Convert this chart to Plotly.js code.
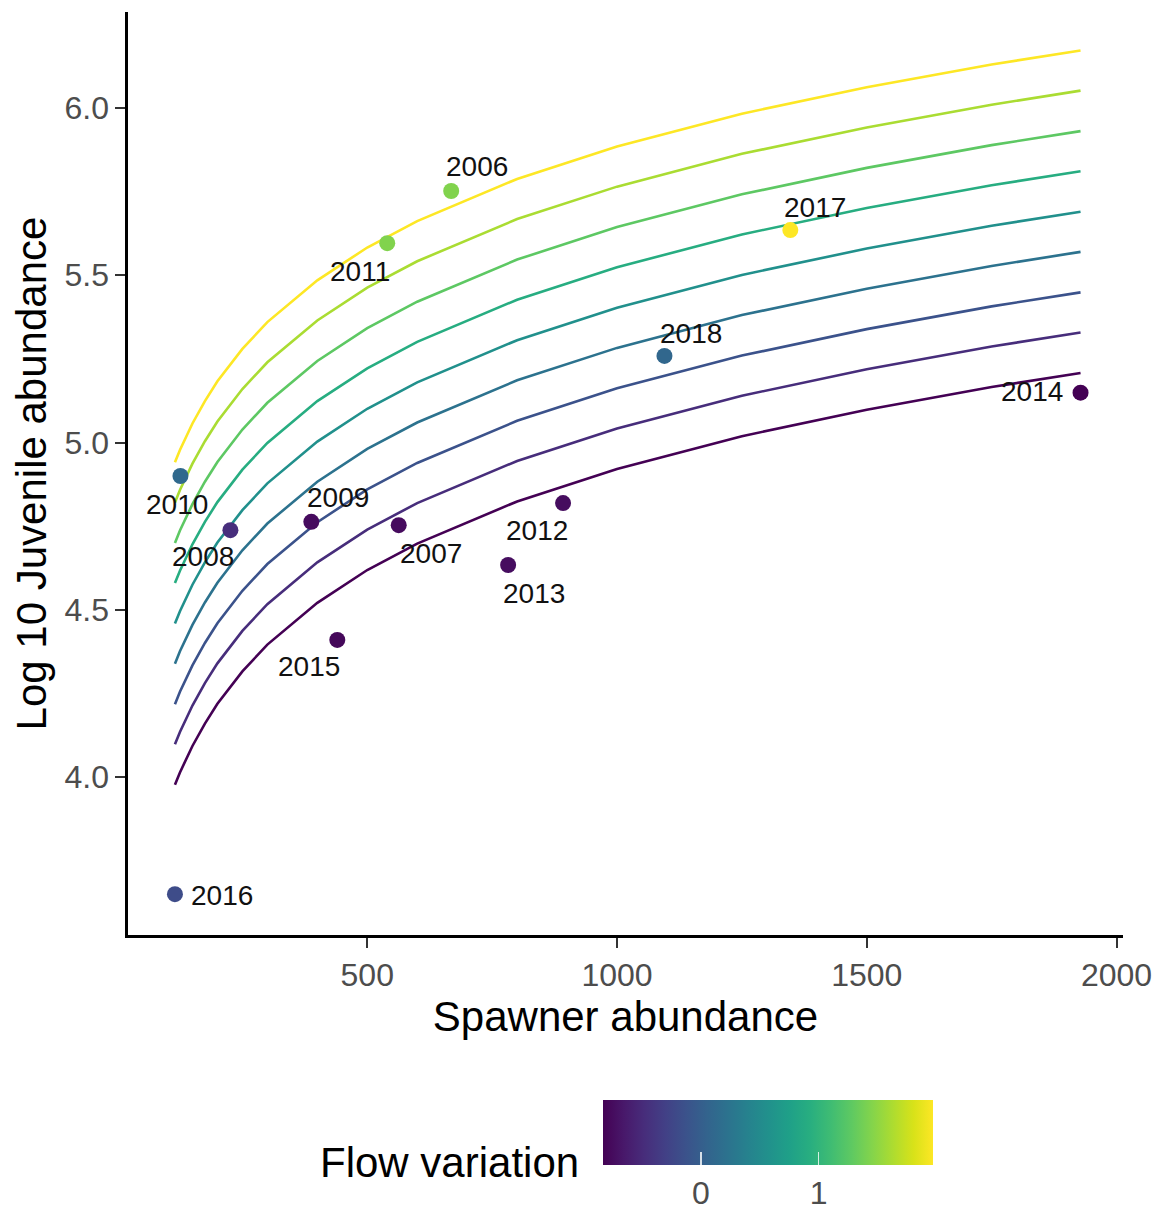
<!DOCTYPE html>
<html>
<head>
<meta charset="utf-8">
<script src="https://cdn.plot.ly/plotly-3.0.1.min.js"></script>
<style>html,body{margin:0;padding:0;background:#fff;}#chart{width:1155px;height:1216px;}</style>
</head>
<body>
<div id="chart"></div>
<script>
// ---- Observed points ----
const years    = ["2006","2007","2008","2009","2010","2011","2012","2013","2014","2015","2016","2017","2018"];
const spawners = [668, 563, 226, 388, 126, 540, 892, 782, 1928, 440, 115, 1347, 1095];
const juvLog10 = [5.752, 4.753, 4.738, 4.763, 4.900, 5.596, 4.819, 4.634, 5.149, 4.410, 3.650, 5.635, 5.259];
const flowVar  = [1.44, -0.75, -0.47, -0.75, 0.12, 1.44, -0.74, -0.74, -0.83, -0.78, -0.19, 1.97, 0.09];

// ---- Fitted curves (one per flow level) ----
const curveS = [115, 125, 150, 175, 200, 250, 300, 400, 500, 600, 800, 1000, 1250, 1500, 1750, 1928];
const curveFlow = [-0.83, -0.48, -0.13, 0.22, 0.57, 0.92, 1.27, 1.62, 1.97];
const curve1 = [3.977, 4.014, 4.093, 4.160, 4.219, 4.316, 4.396, 4.521, 4.619, 4.698, 4.824, 4.921, 5.019, 5.098, 5.166, 5.208];
const curve2 = [4.098, 4.135, 4.214, 4.281, 4.340, 4.437, 4.517, 4.642, 4.740, 4.819, 4.945, 5.042, 5.140, 5.219, 5.287, 5.329];
const curve3 = [4.218, 4.255, 4.334, 4.401, 4.460, 4.557, 4.637, 4.762, 4.860, 4.939, 5.065, 5.162, 5.260, 5.339, 5.407, 5.449];
const curve4 = [4.339, 4.376, 4.455, 4.522, 4.581, 4.678, 4.758, 4.883, 4.981, 5.060, 5.186, 5.283, 5.381, 5.460, 5.528, 5.570];
const curve5 = [4.459, 4.496, 4.575, 4.642, 4.701, 4.798, 4.878, 5.003, 5.101, 5.180, 5.306, 5.403, 5.501, 5.580, 5.648, 5.690];
const curve6 = [4.580, 4.617, 4.696, 4.763, 4.822, 4.919, 4.999, 5.124, 5.222, 5.301, 5.427, 5.524, 5.622, 5.701, 5.769, 5.811];
const curve7 = [4.700, 4.737, 4.816, 4.883, 4.942, 5.039, 5.119, 5.244, 5.342, 5.421, 5.547, 5.644, 5.742, 5.821, 5.889, 5.931];
const curve8 = [4.821, 4.858, 4.937, 5.004, 5.063, 5.160, 5.240, 5.365, 5.463, 5.542, 5.668, 5.765, 5.863, 5.942, 6.010, 6.052];
const curve9 = [4.941, 4.978, 5.057, 5.124, 5.183, 5.280, 5.360, 5.485, 5.583, 5.662, 5.788, 5.885, 5.983, 6.062, 6.130, 6.172];
const curves = [curve1, curve2, curve3, curve4, curve5, curve6, curve7, curve8, curve9];

// ---- Axis ticks ----
const xTicks = [500, 1000, 1500, 2000];
const yTicks = [4.0, 4.5, 5.0, 5.5, 6.0];
const yTickText = ["4.0", "4.5", "5.0", "5.5", "6.0"];
const cbTicks = [0, 1];

// ---- Styles ----
const curveColors = ["#440154","#472D7B","#3B528B","#2C728E","#21908C","#27AD81","#5DC863","#AADC32","#FDE725"];
// label pixel offsets (repel placement), per year
const labelDX = [26, 32, -27, 27, -3, -27, -26, 26, -49, -28, 47, 25, 27];
const labelDY = [24, -28, -26, 24, -28, -28, -27, -28, 1, -27, -1, 23, 22];

const FONT = "Liberation Sans, Arial, Helvetica, sans-serif";
const cmin = -0.83, cmax = 1.97;

const traces = curves.map((c, i) => ({
  type: "scatter", mode: "lines", x: curveS, y: c,
  line: {color: curveColors[i], width: 2.6},
  hoverinfo: "skip", showlegend: false
}));

traces.push({
  type: "scatter", mode: "markers", x: spawners, y: juvLog10, text: years,
  marker: {
    size: 16, color: flowVar, colorscale: "Viridis", cmin: cmin, cmax: cmax,
    showscale: true,
    colorbar: {
      orientation: "h",
      x: (603 - 128) / 995, xanchor: "left",
      y: (935 - 1100) / 923, yanchor: "top",
      len: 330, lenmode: "pixels",
      thickness: 65, thicknessmode: "pixels",
      xpad: 0, ypad: 0,
      outlinewidth: 0,
      tickvals: cbTicks, ticktext: ["0", "1"],
      ticks: "inside", ticklen: 13, tickwidth: 1.5, tickcolor: "rgba(255,255,255,0.8)",
      tickfont: {family: FONT, size: 32, color: "#4d4d4d"},
      title: {text: ""}
    }
  },
  showlegend: false
});

const annotations = years.map((yr, i) => ({
  x: spawners[i], y: juvLog10[i], xref: "x", yref: "y",
  text: yr, showarrow: false, xshift: labelDX[i], yshift: labelDY[i],
  font: {family: FONT, size: 28, color: "#111"},
  xanchor: "center", yanchor: "middle"
}));
annotations.push({
  x: (449 - 128) / 995, y: (935 - 1162) / 923, xref: "paper", yref: "paper",
  text: "Flow variation", showarrow: false, xanchor: "center", yanchor: "middle",
  font: {family: FONT, size: 42, color: "#000"}
});

const layout = {
  width: 1155, height: 1216,
  margin: {l: 128, r: 32, t: 12, b: 281, autoexpand: false},
  paper_bgcolor: "#fff", plot_bgcolor: "#fff",
  font: {family: FONT},
  xaxis: {
    range: [21, 2013], tickvals: xTicks, ticktext: xTicks.map(String),
    showgrid: false, zeroline: false,
    showline: true, linecolor: "#000", linewidth: 2.6,
    ticks: "outside", ticklen: 10, tickwidth: 2, tickcolor: "#333",
    tickfont: {family: FONT, size: 32, color: "#4d4d4d"},
    title: {text: "Spawner abundance", font: {family: FONT, size: 42, color: "#000"}, standoff: 8},
    automargin: false
  },
  yaxis: {
    range: [3.528, 6.287], tickvals: yTicks, ticktext: yTickText,
    showgrid: false, zeroline: false,
    showline: true, linecolor: "#000", linewidth: 2.6,
    ticks: "outside", ticklen: 10, tickwidth: 2, tickcolor: "#333",
    tickfont: {family: FONT, size: 32, color: "#4d4d4d"},
    title: {text: "Log 10 Juvenile abundance", font: {family: FONT, size: 42, color: "#000"}, standoff: 5},
    automargin: false
  },
  annotations: annotations
};

Plotly.newPlot("chart", traces, layout, {staticPlot: true, displayModeBar: false});
</script>
</body>
</html>
